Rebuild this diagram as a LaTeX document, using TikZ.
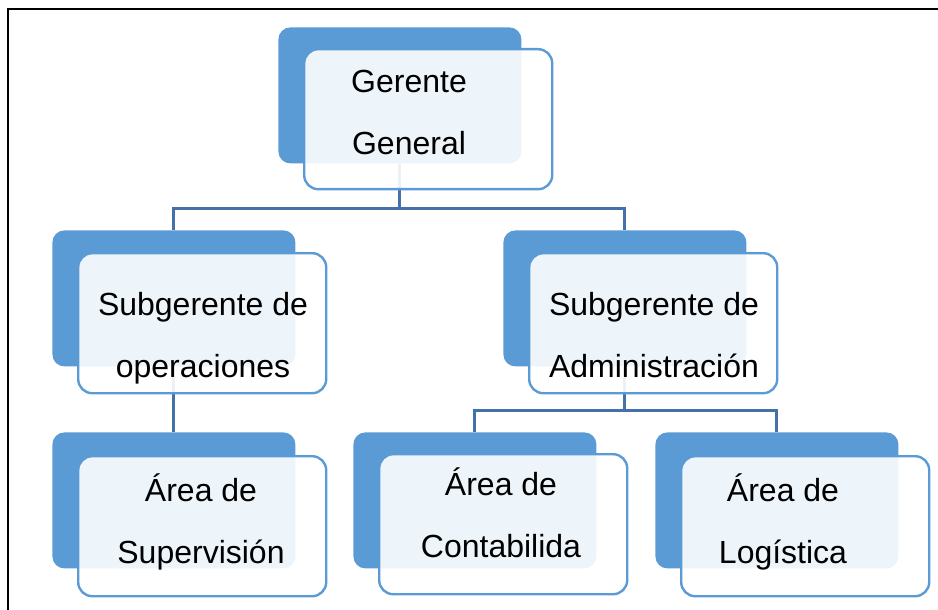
\documentclass[tikz,border=0pt]{standalone}
\usepackage{fontspec}
\setmainfont{Liberation Sans}
\definecolor{boxblue}{RGB}{91,155,213}
\definecolor{lineblue}{RGB}{68,114,168}
\usetikzlibrary{positioning,calc}

\begin{document}
\begin{tikzpicture}[x=0.5pt,y=-0.5pt,
    backbox/.style={fill=boxblue, rounded corners=6pt, minimum width=121.5pt, minimum height=68pt, inner sep=0pt, anchor=north west},
    frontbox/.style={draw=boxblue, line width=1.2pt, fill=white, fill opacity=0.9, rounded corners=7pt, minimum width=124pt, minimum height=70pt, inner sep=0pt, anchor=north west},
    lbl/.style={font=\fontsize{16}{31}\selectfont, align=center, anchor=base, inner sep=0pt},
    conn/.style={draw=lineblue, line width=1.5pt}]
    \useasboundingbox (0,0) rectangle (938,610);
    \draw[line width=1pt] (8,610) -- (8,9) -- (938,9);

    % back boxes
    \node[backbox] (gg-b) at (278,27) {};
    \node[backbox] (op-b) at (52,230) {};
    \node[backbox] (adm-b) at (503,230) {};
    \node[backbox] (sup-b) at (52,432) {};
    \node[backbox] (cont-b) at (353,432) {};
    \node[backbox] (log-b) at (655,432) {};

    % connectors
    \draw[conn] (gg-b.south) -- ++(0,45) -| (op-b.north);
    \draw[conn] (gg-b.south) -- ++(0,45) -| (adm-b.north);
    \draw[conn] (op-b.south) -- (sup-b.north);
    \draw[conn] (adm-b.south) -- ++(0,44) -| (cont-b.north);
    \draw[conn] (adm-b.south) -- ++(0,44) -| (log-b.north);

    % front boxes
    \node[frontbox] (gg) at ([shift={(25,21)}]gg-b.north west) {};
    \node[frontbox] (op) at ([shift={(25,22)}]op-b.north west) {};
    \node[frontbox] (adm) at ([shift={(25,22)}]adm-b.north west) {};
    \node[frontbox] (sup) at ([shift={(25,23)}]sup-b.north west) {};
    \node[frontbox] (cont) at ([shift={(25,21)}]cont-b.north west) {};
    \node[frontbox] (log) at ([shift={(25,23)}]log-b.north west) {};

    % texts (base = last line)
    \node[lbl] (gg-t) at (409,155) {Gerente\\General};
    \node[lbl] (op-t) at (203,377) {Subgerente de\\operaciones};
    \node[lbl] (adm-t) at (654,377) {Subgerente de\\Administración};
    \node[lbl] (sup-t) at (201,563) {Área de\\Supervisión};
    \node[lbl] (cont-t) at (501,557) {Área de\\Contabilida};
    \node[lbl] (log-t) at (783,563) {Área de\\Logística};
\end{tikzpicture}
\end{document}
